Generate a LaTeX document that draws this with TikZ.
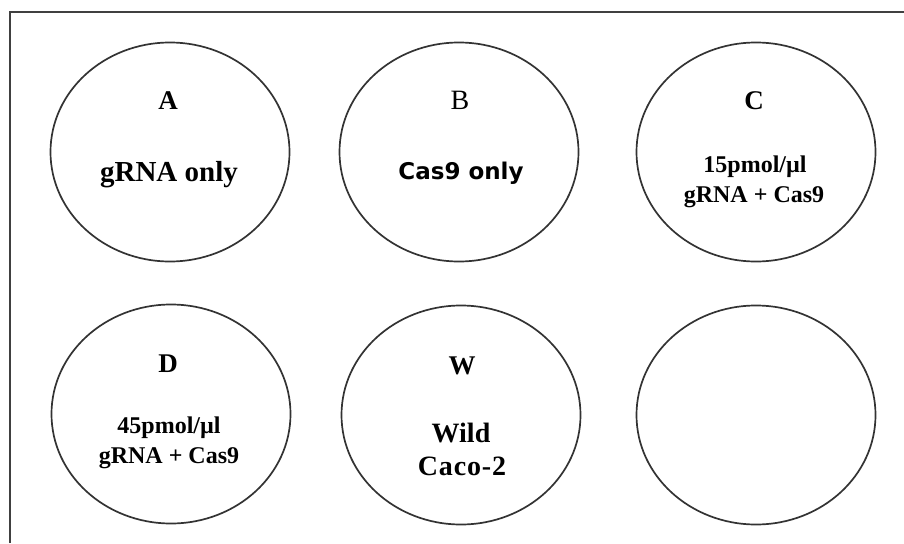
\documentclass[tikz,border=0pt]{standalone}
\usepackage{fontspec}
\setmainfont{Liberation Serif}
\newfontfamily\plainsans{DejaVu Sans}
\usetikzlibrary{shapes.geometric}
\begin{document}
\begin{tikzpicture}[x=1pt, y=-1pt,
        well/.style={ellipse, draw=black!80, line width=1.7pt, minimum width=239pt, minimum height=219pt, inner sep=0pt},
        tag/.style={anchor=base, inner sep=0pt, font=\bfseries\fontsize{27}{27}\selectfont},
        info/.style={anchor=base, inner sep=0pt, font=\bfseries\fontsize{24}{24}\selectfont},
        big/.style={anchor=base, inner sep=0pt, font=\bfseries\fontsize{29}{29}\selectfont}]
        \fill[white] (0,0) rectangle (904,543);
        \useasboundingbox (0,0) rectangle (904,543);
        \draw[black!75, line width=2pt] (10,543) -- (10,12) -- (904,12);

        \node[style=well] (a) at (170, 152) {};
        \node[style=well] (b) at (459, 152) {};
        \node[style=well] (c) at (756, 152) {};
        \node[style=well] (d) at (171, 414) {};
        \node[style=well] (w) at (461, 415) {};
        \node[style=well] (e) at (756, 415) {};

        \node[style=tag] (a-name) at (168, 109) {A};
        \node[style=big] (a-text) at (169, 181) {gRNA only};

        \node[style=tag, font=\fontsize{28}{28}\selectfont] (b-name) at (460, 109) {B};
        \node[style=info, font=\plainsans\bfseries\fontsize{23}{23}\selectfont] (b-text) at (461, 179) {Cas9 only};

        \node[style=tag] (c-name) at (754, 109) {C};
        \node[style=info] (c-dose) at (755, 172) {15pmol/µl};
        \node[style=info] (c-text) at (754, 202) {gRNA + Cas9};

        \node[style=tag] (d-name) at (168, 372) {D};
        \node[style=info] (d-dose) at (169, 433) {45pmol/µl};
        \node[style=info] (d-text) at (169, 463) {gRNA + Cas9};

        \node[style=tag] (w-name) at (462, 374) {W};
        \node[style=big, font=\bfseries\fontsize{28}{28}\selectfont] (w-text) at (461, 442) {Wild};
        \node[style=big, font=\bfseries\fontsize{28}{28}\selectfont\addfontfeature{LetterSpace=3}] (w-cell) at (462, 475) {Caco-2};
    \end{tikzpicture}
\end{document}
